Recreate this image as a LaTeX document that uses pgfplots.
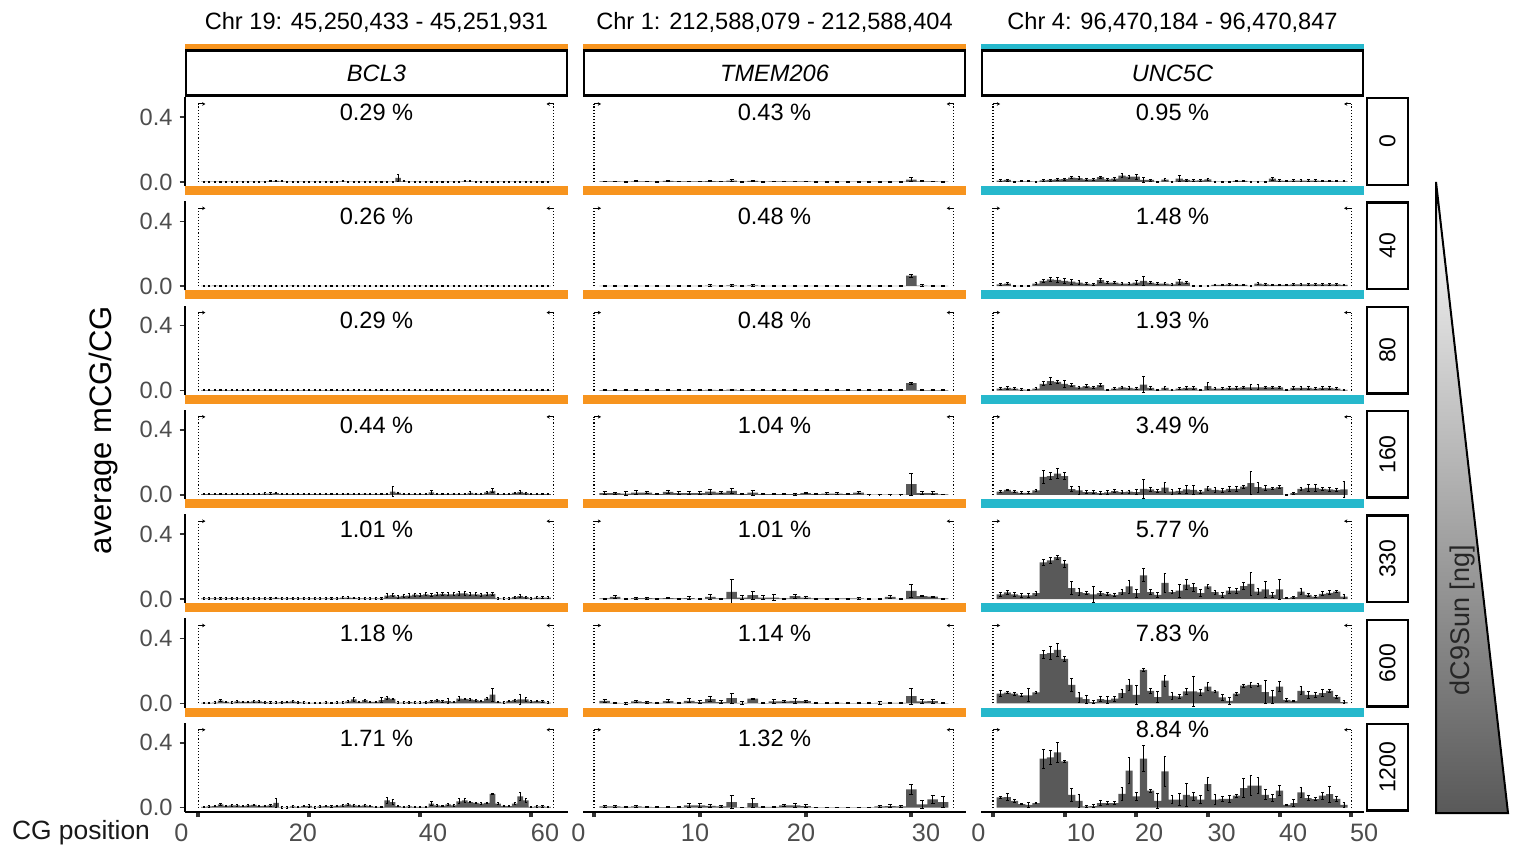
\documentclass[border=0pt]{standalone}
\usepackage{fontspec}
\setmainfont{Liberation Sans}
\usepackage{pgfplots}
\pgfplotsset{compat=1.18}
\usepackage{pgfplotstable}
\usetikzlibrary{arrows.meta}

\definecolor{barc}{HTML}{595959}
\definecolor{orng}{HTML}{F7941E}
\definecolor{tealc}{HTML}{26B8CC}
\definecolor{tickc}{HTML}{4D4D4D}
\definecolor{tickd}{HTML}{333333}
\newcommand\fs[1]{\fontsize{#1}{#1}\selectfont}

% BCL3, 63 CGs: mean and sd per dose (0,40,80,160,330,600,1200 ng)
\pgfplotstableread{
x y0 e0 y40 e40 y80 e80 y160 e160 y330 e330 y600 e600 y1200 e1200
1 0.002 0.003 0.003 0.003 0.002 0.002 0.004 0.004 0.004 0.005 0.003 0.005 0.005 0.005
2 0.002 0.003 0.003 0.003 0.002 0.002 0.004 0.004 0.004 0.005 0.003 0.005 0.008 0.005
3 0.002 0.003 0.004 0.003 0.002 0.002 0.004 0.004 0.004 0.005 0.005 0.005 0.010 0.005
4 0.002 0.003 0.003 0.003 0.002 0.002 0.004 0.004 0.004 0.005 0.018 0.008 0.020 0.006
5 0.002 0.003 0.003 0.003 0.002 0.002 0.004 0.004 0.004 0.005 0.010 0.005 0.012 0.005
6 0.002 0.003 0.003 0.003 0.002 0.002 0.004 0.004 0.006 0.005 0.005 0.005 0.015 0.005
7 0.002 0.003 0.003 0.003 0.002 0.002 0.004 0.004 0.004 0.005 0.012 0.005 0.015 0.005
8 0.002 0.003 0.003 0.003 0.002 0.002 0.004 0.004 0.004 0.005 0.010 0.005 0.010 0.005
9 0.002 0.003 0.003 0.003 0.002 0.002 0.004 0.004 0.004 0.005 0.010 0.005 0.015 0.005
10 0.002 0.003 0.004 0.003 0.002 0.002 0.004 0.004 0.004 0.005 0.012 0.005 0.018 0.005
11 0.002 0.003 0.003 0.003 0.002 0.002 0.004 0.004 0.004 0.005 0.012 0.005 0.010 0.005
12 0.002 0.003 0.003 0.003 0.002 0.002 0.008 0.004 0.004 0.005 0.008 0.005 0.012 0.005
13 0.004 0.003 0.003 0.003 0.002 0.002 0.008 0.004 0.004 0.005 0.005 0.005 0.015 0.005
14 0.006 0.003 0.003 0.003 0.002 0.002 0.010 0.004 0.008 0.005 0.005 0.005 0.030 0.030
15 0.004 0.003 0.003 0.003 0.002 0.002 0.004 0.004 0.004 0.005 0.008 0.005 0.003 0.005
16 0.002 0.003 0.003 0.003 0.002 0.002 0.004 0.004 0.004 0.005 0.010 0.005 0.002 0.005
17 0.002 0.003 0.004 0.003 0.002 0.002 0.004 0.004 0.006 0.005 0.012 0.005 0.008 0.005
18 0.002 0.003 0.003 0.003 0.002 0.002 0.004 0.004 0.004 0.005 0.008 0.005 0.006 0.005
19 0.002 0.003 0.003 0.003 0.002 0.002 0.004 0.004 0.004 0.005 0.005 0.005 0.010 0.005
20 0.002 0.003 0.003 0.003 0.002 0.002 0.004 0.004 0.004 0.005 0.003 0.005 0.012 0.010
21 0.002 0.003 0.003 0.003 0.002 0.002 0.004 0.004 0.004 0.005 0.003 0.005 0.003 0.005
22 0.002 0.003 0.003 0.003 0.002 0.002 0.004 0.004 0.004 0.005 0.003 0.005 0.008 0.005
23 0.002 0.003 0.003 0.003 0.002 0.002 0.004 0.004 0.004 0.005 0.005 0.005 0.010 0.005
24 0.002 0.003 0.003 0.003 0.002 0.002 0.004 0.004 0.004 0.005 0.002 0.005 0.008 0.005
25 0.002 0.003 0.003 0.003 0.002 0.002 0.004 0.004 0.004 0.005 0.005 0.005 0.012 0.005
26 0.004 0.003 0.003 0.003 0.002 0.002 0.004 0.004 0.010 0.005 0.005 0.005 0.015 0.005
27 0.002 0.003 0.003 0.003 0.002 0.002 0.006 0.004 0.010 0.005 0.012 0.005 0.020 0.005
28 0.002 0.003 0.004 0.003 0.002 0.002 0.004 0.004 0.008 0.005 0.025 0.010 0.015 0.005
29 0.002 0.003 0.003 0.003 0.002 0.002 0.004 0.004 0.004 0.005 0.010 0.005 0.012 0.005
30 0.002 0.003 0.003 0.003 0.002 0.002 0.006 0.004 0.004 0.005 0.020 0.005 0.015 0.005
31 0.002 0.003 0.003 0.003 0.002 0.002 0.004 0.004 0.004 0.005 0.010 0.005 0.010 0.005
32 0.002 0.003 0.003 0.003 0.002 0.002 0.004 0.004 0.004 0.005 0.010 0.005 0.005 0.005
33 0.002 0.003 0.003 0.003 0.002 0.002 0.004 0.004 0.004 0.005 0.020 0.015 0.005 0.005
34 0.002 0.003 0.003 0.003 0.002 0.002 0.004 0.004 0.022 0.010 0.035 0.010 0.045 0.020
35 0.002 0.003 0.003 0.003 0.002 0.002 0.020 0.030 0.025 0.010 0.028 0.005 0.035 0.015
36 0.025 0.020 0.003 0.003 0.002 0.002 0.012 0.005 0.015 0.010 0.005 0.005 0.010 0.005
37 0.004 0.003 0.003 0.003 0.002 0.002 0.004 0.004 0.020 0.010 0.005 0.005 0.005 0.005
38 0.002 0.003 0.003 0.003 0.002 0.002 0.004 0.004 0.022 0.010 0.008 0.005 0.008 0.005
39 0.002 0.003 0.003 0.003 0.002 0.002 0.004 0.004 0.028 0.010 0.005 0.005 0.005 0.005
40 0.002 0.003 0.004 0.003 0.002 0.002 0.004 0.004 0.025 0.010 0.005 0.005 0.005 0.005
41 0.002 0.003 0.003 0.003 0.002 0.002 0.004 0.004 0.030 0.010 0.008 0.005 0.005 0.005
42 0.002 0.003 0.003 0.003 0.002 0.002 0.015 0.010 0.025 0.010 0.012 0.005 0.025 0.012
43 0.002 0.003 0.003 0.003 0.002 0.002 0.004 0.004 0.030 0.010 0.020 0.005 0.015 0.005
44 0.002 0.003 0.003 0.003 0.002 0.002 0.004 0.004 0.032 0.010 0.012 0.005 0.012 0.005
45 0.002 0.003 0.003 0.003 0.002 0.002 0.004 0.004 0.030 0.010 0.015 0.015 0.020 0.005
46 0.002 0.003 0.003 0.003 0.002 0.002 0.006 0.004 0.030 0.010 0.010 0.005 0.015 0.005
47 0.002 0.003 0.003 0.003 0.002 0.002 0.004 0.004 0.035 0.010 0.030 0.012 0.040 0.015
48 0.004 0.003 0.003 0.003 0.002 0.002 0.004 0.004 0.035 0.010 0.028 0.005 0.045 0.015
49 0.004 0.003 0.003 0.003 0.002 0.002 0.012 0.008 0.030 0.010 0.025 0.005 0.035 0.005
50 0.002 0.003 0.003 0.003 0.003 0.002 0.006 0.004 0.030 0.010 0.020 0.005 0.030 0.005
51 0.002 0.003 0.003 0.003 0.002 0.002 0.004 0.004 0.028 0.010 0.015 0.005 0.025 0.005
52 0.002 0.003 0.004 0.003 0.002 0.002 0.015 0.005 0.030 0.010 0.030 0.005 0.030 0.005
53 0.002 0.003 0.003 0.003 0.002 0.002 0.025 0.012 0.032 0.010 0.055 0.040 0.085 0.006
54 0.002 0.003 0.003 0.003 0.002 0.002 0.004 0.004 0.005 0.005 0.010 0.005 0.025 0.005
55 0.002 0.003 0.003 0.003 0.002 0.002 0.004 0.004 0.003 0.005 0.005 0.005 0.012 0.005
56 0.002 0.003 0.003 0.003 0.002 0.002 0.004 0.004 0.005 0.005 0.015 0.005 0.010 0.005
57 0.002 0.003 0.003 0.003 0.002 0.002 0.012 0.005 0.012 0.005 0.020 0.005 0.025 0.005
58 0.002 0.003 0.003 0.003 0.002 0.002 0.018 0.010 0.018 0.008 0.025 0.030 0.070 0.025
59 0.002 0.003 0.003 0.003 0.002 0.002 0.010 0.005 0.012 0.005 0.025 0.012 0.045 0.010
60 0.002 0.003 0.003 0.003 0.002 0.002 0.004 0.004 0.005 0.005 0.012 0.005 0.005 0.005
61 0.002 0.003 0.003 0.003 0.002 0.002 0.004 0.004 0.010 0.005 0.015 0.005 0.008 0.005
62 0.002 0.003 0.003 0.003 0.002 0.002 0.004 0.004 0.010 0.005 0.012 0.005 0.008 0.005
63 0.002 0.003 0.003 0.003 0.002 0.002 0.004 0.004 0.010 0.005 0.005 0.005 0.005 0.005
}\tBCL

% TMEM206, 33 CGs
\pgfplotstableread{
x y0 e0 y40 e40 y80 e80 y160 e160 y330 e330 y600 e600 y1200 e1200
1 0.003 0.003 0.003 0.003 0.002 0.002 0.010 0.008 0.004 0.003 0.016 0.010 0.008 0.004
2 0.003 0.003 0.003 0.003 0.003 0.002 0.010 0.005 0.014 0.008 0.004 0.003 0.008 0.006
3 0.002 0.003 0.002 0.003 0.002 0.002 0.008 0.010 0.002 0.002 0.002 0.006 0.006 0.003
4 0.004 0.004 0.003 0.003 0.003 0.002 0.014 0.012 0.006 0.006 0.012 0.006 0.008 0.005
5 0.003 0.003 0.003 0.003 0.002 0.002 0.014 0.008 0.006 0.006 0.008 0.006 0.006 0.003
6 0.002 0.003 0.002 0.003 0.002 0.002 0.004 0.003 0.004 0.003 0.004 0.003 0.004 0.002
7 0.006 0.004 0.003 0.003 0.003 0.002 0.018 0.012 0.006 0.004 0.014 0.008 0.004 0.002
8 0.003 0.003 0.002 0.003 0.002 0.002 0.010 0.008 0.004 0.003 0.004 0.003 0.004 0.002
9 0.003 0.003 0.003 0.003 0.003 0.002 0.010 0.008 0.006 0.008 0.016 0.012 0.014 0.012
10 0.003 0.003 0.003 0.003 0.002 0.002 0.010 0.010 0.002 0.002 0.008 0.008 0.014 0.012
11 0.005 0.004 0.004 0.004 0.004 0.003 0.020 0.015 0.014 0.015 0.027 0.015 0.012 0.008
12 0.003 0.003 0.003 0.003 0.003 0.002 0.014 0.008 0.004 0.003 0.008 0.008 0.008 0.004
13 0.008 0.008 0.006 0.005 0.005 0.004 0.025 0.015 0.045 0.075 0.033 0.030 0.035 0.040
14 0.002 0.003 0.002 0.003 0.002 0.002 0.004 0.003 0.010 0.010 0.004 0.008 0.002 0.001
15 0.006 0.004 0.005 0.004 0.003 0.002 0.014 0.015 0.025 0.025 0.029 0.004 0.029 0.030
16 0.002 0.003 0.002 0.003 0.002 0.002 0.004 0.003 0.010 0.010 0.002 0.002 0.006 0.004
17 0.003 0.003 0.003 0.003 0.002 0.002 0.004 0.004 0.010 0.018 0.012 0.015 0.006 0.004
18 0.003 0.003 0.002 0.003 0.002 0.002 0.004 0.003 0.004 0.003 0.012 0.008 0.014 0.008
19 0.003 0.003 0.003 0.003 0.003 0.002 0.004 0.006 0.018 0.012 0.016 0.015 0.014 0.010
20 0.003 0.003 0.003 0.003 0.002 0.002 0.010 0.004 0.010 0.008 0.014 0.005 0.010 0.010
21 0.002 0.003 0.002 0.003 0.002 0.002 0.004 0.004 0.004 0.003 0.002 0.002 0.002 0.002
22 0.002 0.003 0.002 0.003 0.002 0.002 0.008 0.004 0.004 0.003 0.002 0.002 0.002 0.002
23 0.002 0.003 0.003 0.003 0.002 0.002 0.008 0.004 0.004 0.003 0.004 0.005 0.002 0.002
24 0.002 0.003 0.002 0.003 0.002 0.002 0.004 0.003 0.004 0.003 0.002 0.002 0.002 0.002
25 0.002 0.003 0.002 0.003 0.002 0.002 0.014 0.008 0.004 0.004 0.002 0.002 0.002 0.002
26 0.002 0.003 0.002 0.003 0.002 0.002 0.002 0.002 0.002 0.002 0.002 0.002 0.002 0.002
27 0.002 0.003 0.002 0.003 0.002 0.002 0.002 0.002 0.002 0.002 0.004 0.008 0.008 0.006
28 0.002 0.003 0.002 0.003 0.002 0.002 0.002 0.002 0.014 0.008 0.004 0.004 0.010 0.010
29 0.002 0.003 0.002 0.003 0.002 0.002 0.002 0.002 0.002 0.002 0.004 0.004 0.008 0.008
30 0.015 0.010 0.065 0.008 0.045 0.006 0.066 0.068 0.051 0.042 0.045 0.050 0.113 0.030
31 0.004 0.003 0.004 0.004 0.003 0.002 0.010 0.008 0.018 0.004 0.012 0.010 0.020 0.022
32 0.003 0.003 0.003 0.003 0.003 0.002 0.010 0.008 0.016 0.003 0.014 0.012 0.051 0.025
33 0.002 0.003 0.002 0.003 0.002 0.002 0.003 0.002 0.004 0.003 0.002 0.002 0.035 0.035
}\tTMEM

% UNC5C, 49 CGs
\pgfplotstableread{
x y0 e0 y40 e40 y80 e80 y160 e160 y330 e330 y600 e600 y1200 e1200
1 0.008 0.006 0.012 0.008 0.012 0.008 0.020 0.008 0.029 0.012 0.060 0.020 0.064 0.008
2 0.012 0.006 0.016 0.008 0.016 0.008 0.030 0.006 0.041 0.015 0.066 0.005 0.066 0.020
3 0.002 0.004 0.002 0.004 0.012 0.008 0.020 0.008 0.029 0.012 0.060 0.008 0.043 0.010
4 0.004 0.004 0.002 0.004 0.006 0.006 0.012 0.006 0.023 0.010 0.050 0.010 0.023 0.005
5 0.004 0.004 0.002 0.004 0.004 0.004 0.012 0.006 0.023 0.015 0.050 0.040 0.018 0.015
6 0.002 0.004 0.016 0.008 0.012 0.008 0.027 0.008 0.037 0.012 0.068 0.008 0.029 0.005
7 0.010 0.006 0.033 0.010 0.041 0.012 0.110 0.040 0.226 0.020 0.304 0.025 0.302 0.060
8 0.012 0.006 0.043 0.012 0.058 0.020 0.115 0.020 0.238 0.020 0.310 0.040 0.310 0.045
9 0.016 0.008 0.039 0.015 0.053 0.012 0.130 0.030 0.259 0.012 0.330 0.040 0.341 0.060
10 0.018 0.006 0.033 0.015 0.041 0.020 0.115 0.020 0.218 0.020 0.275 0.015 0.285 0.004
11 0.027 0.008 0.029 0.015 0.033 0.010 0.035 0.015 0.068 0.040 0.115 0.040 0.080 0.040
12 0.023 0.008 0.023 0.010 0.020 0.008 0.027 0.025 0.043 0.020 0.037 0.030 0.043 0.040
13 0.016 0.006 0.016 0.008 0.027 0.008 0.016 0.010 0.037 0.010 0.027 0.025 0.008 0.004
14 0.016 0.006 0.012 0.006 0.020 0.008 0.016 0.010 0.029 0.050 0.008 0.008 0.010 0.008
15 0.029 0.006 0.037 0.012 0.033 0.010 0.010 0.008 0.037 0.012 0.027 0.015 0.029 0.015
16 0.016 0.006 0.023 0.008 0.004 0.004 0.015 0.010 0.033 0.008 0.022 0.020 0.029 0.010
17 0.020 0.008 0.023 0.008 0.012 0.008 0.023 0.010 0.027 0.008 0.029 0.015 0.029 0.010
18 0.039 0.012 0.016 0.008 0.020 0.008 0.016 0.010 0.043 0.015 0.064 0.025 0.086 0.040
19 0.033 0.010 0.016 0.008 0.016 0.012 0.020 0.010 0.078 0.040 0.115 0.035 0.228 0.080
20 0.033 0.015 0.023 0.010 0.012 0.008 0.016 0.015 0.037 0.025 0.053 0.060 0.070 0.025
21 0.012 0.015 0.033 0.030 0.037 0.050 0.037 0.060 0.146 0.040 0.207 0.008 0.302 0.080
22 0.012 0.006 0.023 0.008 0.016 0.008 0.033 0.010 0.043 0.015 0.078 0.015 0.105 0.008
23 0.002 0.004 0.016 0.008 0.004 0.004 0.023 0.010 0.027 0.015 0.039 0.035 0.043 0.045
24 0.014 0.006 0.016 0.008 0.016 0.008 0.045 0.030 0.100 0.060 0.140 0.035 0.224 0.090
25 0.002 0.004 0.012 0.006 0.004 0.004 0.020 0.015 0.043 0.010 0.047 0.020 0.050 0.025
26 0.020 0.020 0.029 0.015 0.012 0.008 0.025 0.015 0.053 0.040 0.043 0.015 0.050 0.035
27 0.012 0.006 0.023 0.008 0.016 0.008 0.033 0.025 0.090 0.030 0.074 0.020 0.080 0.070
28 0.008 0.006 0.002 0.004 0.016 0.008 0.030 0.025 0.074 0.025 0.074 0.095 0.070 0.025
29 0.010 0.006 0.002 0.004 0.004 0.004 0.020 0.010 0.037 0.020 0.068 0.020 0.050 0.025
30 0.016 0.006 0.002 0.004 0.027 0.020 0.040 0.010 0.078 0.012 0.103 0.025 0.146 0.040
31 0.002 0.004 0.008 0.006 0.012 0.008 0.030 0.015 0.043 0.012 0.074 0.005 0.050 0.030
32 0.002 0.004 0.008 0.006 0.012 0.008 0.027 0.015 0.027 0.015 0.037 0.020 0.055 0.015
33 0.002 0.004 0.012 0.006 0.016 0.008 0.037 0.015 0.053 0.020 0.016 0.020 0.055 0.020
34 0.006 0.004 0.008 0.006 0.016 0.008 0.037 0.015 0.053 0.015 0.060 0.010 0.074 0.010
35 0.006 0.004 0.008 0.006 0.020 0.008 0.050 0.010 0.080 0.020 0.110 0.010 0.121 0.060
36 0.002 0.004 0.002 0.004 0.020 0.015 0.072 0.070 0.094 0.070 0.115 0.015 0.136 0.060
37 0.002 0.004 0.016 0.008 0.020 0.015 0.047 0.030 0.047 0.020 0.115 0.010 0.136 0.050
38 0.002 0.004 0.012 0.006 0.020 0.008 0.040 0.015 0.060 0.050 0.070 0.070 0.080 0.030
39 0.020 0.008 0.008 0.006 0.020 0.008 0.040 0.008 0.027 0.015 0.043 0.040 0.060 0.020
40 0.008 0.006 0.008 0.006 0.020 0.008 0.047 0.010 0.060 0.060 0.103 0.030 0.105 0.030
41 0.006 0.004 0.008 0.006 0.004 0.004 0.000 0.002 0.006 0.004 0.022 0.010 0.018 0.005
42 0.008 0.006 0.012 0.006 0.016 0.008 0.010 0.006 0.012 0.006 0.016 0.005 0.029 0.020
43 0.008 0.006 0.012 0.006 0.016 0.008 0.037 0.010 0.047 0.020 0.078 0.025 0.094 0.030
44 0.008 0.006 0.012 0.006 0.016 0.008 0.043 0.020 0.027 0.010 0.053 0.020 0.060 0.015
45 0.008 0.006 0.012 0.006 0.012 0.008 0.043 0.020 0.016 0.008 0.053 0.015 0.053 0.010
46 0.006 0.004 0.012 0.006 0.016 0.008 0.037 0.010 0.033 0.012 0.064 0.020 0.074 0.020
47 0.006 0.004 0.012 0.006 0.016 0.008 0.033 0.012 0.039 0.012 0.078 0.010 0.084 0.050
48 0.004 0.004 0.012 0.006 0.012 0.008 0.030 0.010 0.047 0.008 0.041 0.008 0.055 0.015
49 0.004 0.004 0.008 0.006 0.004 0.004 0.033 0.050 0.016 0.010 0.008 0.008 0.018 0.015
}\tUNC

\pgfplotsset{
  panel/.style={width=191.5pt, height=44.5pt, scale only axis, anchor=north west,
    ymin=-0.025, ymax=0.523, clip=false,
    axis x line*=bottom, axis y line*=left, axis line style={-},
    x axis line style={draw=none}, y axis line style={draw=none},
    xtick=\empty, ytick=\empty, tick align=outside, major tick length=2.7pt},
  leftcol/.style={y axis line style={draw=black, line width=1pt},
    ytick={0,0.4}, yticklabels={0.0,0.4},
    ytick style={draw=tickd, line width=0.75pt},
    yticklabel style={font=\fs{11.8}, text=tickc}},
  bottomrow/.style={x axis line style={draw=black, line width=1.2pt},
    xtick style={draw=tickd, line width=2pt}, xticklabels={,,,,,,}},
  c1/.style={xmin=-2.4, xmax=66.6},
  c2/.style={xmin=-1.04, xmax=35.16},
  c3/.style={xmin=-1.68, xmax=51.8},
}

% #1 x, #2 y (pt), #3 options, #4 table, #5 dose, #6 right bracket x,
% #7 label, #8 label rel y, #9 error cap half width (pt)
\newcommand\panel[9]{%
\begin{axis}[panel, at={(#1pt,#2pt)}, #3]
\addplot[ybar, bar width=1, fill=barc, draw=none,
  error bars/.cd, y dir=both, y explicit,
  error bar style={black, line width=0.45pt},
  error mark options={rotate=90, mark size=#9pt, line width=0.45pt}]
  table[x=x, y=y#5, y error=e#5] {#4};
\draw[densely dotted, line width=0.55pt] (axis cs:0,0) -- (axis cs:0,0.48);
\draw[densely dotted, line width=0.55pt] (axis cs:#6,0) -- (axis cs:#6,0.48);
\draw[line width=0.5pt, -{Stealth[length=1.6pt,width=1.8pt]}] (axis cs:0,0.48) -- ++(3.5pt,0pt);
\draw[line width=0.5pt, -{Stealth[length=1.6pt,width=1.8pt]}] (axis cs:#6,0.48) -- ++(-3.5pt,0pt);
\node[font=\fs{11.8}] at (rel axis cs:0.5,#8) {#7};
\end{axis}}

\newcommand\colhead[4]{%
\begin{scope}[shift={(#1pt,0pt)}]
\fill[#2] (0pt,-22pt) rectangle (191.5pt,-24.6pt);
\draw[line width=1.2pt] (0.6pt,-25.3pt) rectangle (190.9pt,-47.7pt);
\node[font=\fs{11.8}\itshape] at (95.75pt,-36.5pt) {#3};
\node[font=\fs{11.8}] at (95.75pt,-11pt) {#4};
\end{scope}}

\newcommand\rstrip[2]{%
\begin{scope}[shift={(0pt,#1pt)}]
\draw[line width=1.2pt] (683.6pt,-0.6pt) rectangle (703.9pt,-43.9pt);
\node[font=\fs{11.5}, rotate=90] at (693.75pt,-22.25pt) {#2};
\end{scope}}

\newcommand\band[3]{\fill[#3] (#1pt,#2pt) rectangle ++(191.5pt,-4.5pt);}

\begin{document}
\begin{tikzpicture}
\useasboundingbox (0,0) rectangle (760pt,-424.5pt);

% BCL3
\panel{92.5}{-48.5}{c1,leftcol}{\tBCL}{0}{64}{0.29 \%}{0.83}{0.53}
\panel{92.5}{-100.65}{c1,leftcol}{\tBCL}{40}{64}{0.26 \%}{0.83}{0.53}
\panel{92.5}{-152.8}{c1,leftcol}{\tBCL}{80}{64}{0.29 \%}{0.83}{0.53}
\panel{92.5}{-204.95}{c1,leftcol}{\tBCL}{160}{64}{0.44 \%}{0.83}{0.53}
\panel{92.5}{-257.1}{c1,leftcol}{\tBCL}{330}{64}{1.01 \%}{0.83}{0.53}
\panel{92.5}{-309.25}{c1,leftcol}{\tBCL}{600}{64}{1.18 \%}{0.83}{0.53}
\panel{92.5}{-361.4}{c1,leftcol,bottomrow,xtick={0,20,40,60}}{\tBCL}{1200}{64}{1.71 \%}{0.83}{0.53}
% TMEM206
\panel{291.5}{-48.5}{c2}{\tTMEM}{0}{34}{0.43 \%}{0.83}{1}
\panel{291.5}{-100.65}{c2}{\tTMEM}{40}{34}{0.48 \%}{0.83}{1}
\panel{291.5}{-152.8}{c2}{\tTMEM}{80}{34}{0.48 \%}{0.83}{1}
\panel{291.5}{-204.95}{c2}{\tTMEM}{160}{34}{1.04 \%}{0.83}{1}
\panel{291.5}{-257.1}{c2}{\tTMEM}{330}{34}{1.01 \%}{0.83}{1}
\panel{291.5}{-309.25}{c2}{\tTMEM}{600}{34}{1.14 \%}{0.83}{1}
\panel{291.5}{-361.4}{c2,bottomrow,xtick={0,10,20,30}}{\tTMEM}{1200}{34}{1.32 \%}{0.83}{1}
% UNC5C
\panel{490.5}{-48.5}{c3}{\tUNC}{0}{50}{0.95 \%}{0.83}{0.68}
\panel{490.5}{-100.65}{c3}{\tUNC}{40}{50}{1.48 \%}{0.83}{0.68}
\panel{490.5}{-152.8}{c3}{\tUNC}{80}{50}{1.93 \%}{0.83}{0.68}
\panel{490.5}{-204.95}{c3}{\tUNC}{160}{50}{3.49 \%}{0.83}{0.68}
\panel{490.5}{-257.1}{c3}{\tUNC}{330}{50}{5.77 \%}{0.83}{0.68}
\panel{490.5}{-309.25}{c3}{\tUNC}{600}{50}{7.83 \%}{0.83}{0.68}
\panel{490.5}{-361.4}{c3,bottomrow,xtick={0,10,20,30,40,50}}{\tUNC}{1200}{50}{8.84 \%}{0.921}{0.68}

% coloured bands under panels
\foreach \yb in {-93,-145.15,-197.3,-249.45,-301.6,-353.75}{
  \band{92.5}{\yb}{orng}
  \band{291.5}{\yb}{orng}
  \band{490.5}{\yb}{tealc}
}

% column headers
\colhead{92.5}{orng}{BCL3}{Chr 19: 45,250,433 - 45,251,931}
\colhead{291.5}{orng}{TMEM206}{Chr 1: 212,588,079 - 212,588,404}
\colhead{490.5}{tealc}{UNC5C}{Chr 4: 96,470,184 - 96,470,847}

% dose strips
\rstrip{-48.5}{0}
\rstrip{-100.65}{40}
\rstrip{-152.8}{80}
\rstrip{-204.95}{160}
\rstrip{-257.1}{330}
\rstrip{-309.25}{600}
\rstrip{-361.4}{1200}

% dose wedge
\shade[top color=white, bottom color=barc] (718pt,-91pt) -- (718pt,-406.5pt) -- (754pt,-406.5pt) -- cycle;
\draw[line width=1pt, line join=miter] (718pt,-91pt) -- (718pt,-406.5pt) -- (754pt,-406.5pt) -- cycle;
\node[font=\fs{13.5}, rotate=90, text=black!85] at (731pt,-310pt) {dC9Sun [ng]};

% axis titles
\node[font=\fs{15.5}, rotate=90] at (51.5pt,-215pt) {average mCG/CG};
\node[font=\fs{13.2}, text=black!90] at (40.5pt,-416.5pt) {CG position};

% CG position tick labels
\foreach \xl/\tl in {90.65/0,151.5/20,216.5/40,272.5/60,289.15/0,347.5/10,400.5/20,463/30,489.15/0,540.5/10,574.5/20,610.85/30,646.5/40,682/50}{
  \node[font=\fs{12.6}, text=tickc] at (\xl pt,-416.5pt) {\tl};
}
\end{tikzpicture}
\end{document}
